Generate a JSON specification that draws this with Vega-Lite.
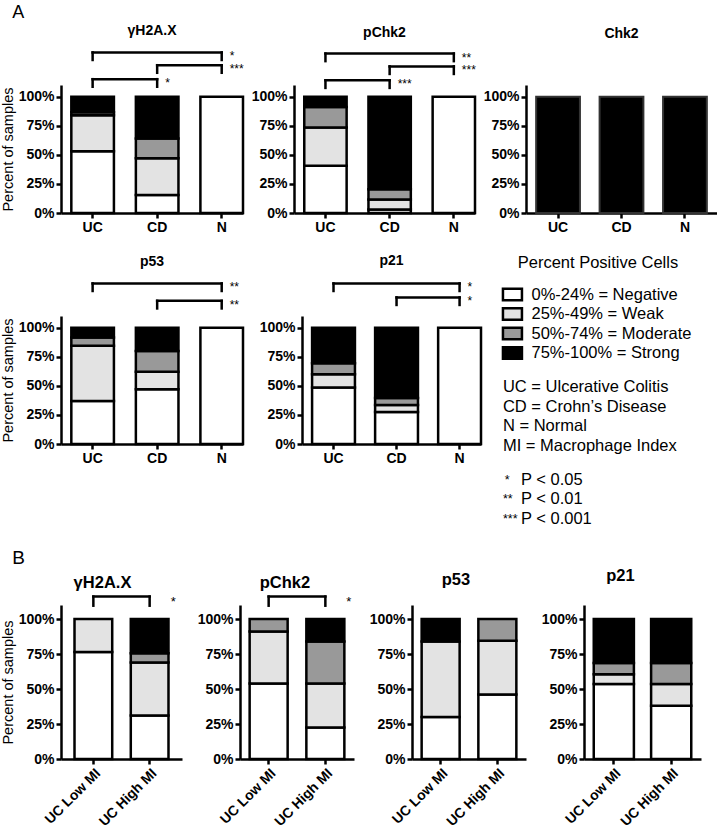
{
"$schema": "https://vega.github.io/schema/vega-lite/v6.json",
"background": "white",
"padding": {"left": 0, "top": 4, "right": 2, "bottom": 2},
"spacing": 20,
"config": {
 "font": "Liberation Sans",
 "view": {"stroke": null},
 "axis": {"domainColor": "black", "domainWidth": 2.5, "tickColor": "black", "tickWidth": 2.5, "tickSize": 5, "labelFont": "Liberation Sans", "labelFontSize": 14, "labelFontWeight": "bold", "labelColor": "black", "labelPadding": 2, "grid": false, "titleFont": "Liberation Sans", "titleFontSize": 14.5, "titleFontWeight": "normal", "titleColor": "black", "titlePadding": 3},
 "title": {"font": "Liberation Sans", "fontWeight": "bold", "color": "black", "fontSize": 14},
 "text": {"font": "Liberation Sans", "color": "black"}
},
"datasets": {
 "bars": [
  {"p":"A γH2A.X","g":"UC","l":"Negative","r":1,"v":53},
  {"p":"A γH2A.X","g":"UC","l":"Weak","r":2,"v":31},
  {"p":"A γH2A.X","g":"UC","l":"Moderate","r":3,"v":2.5},
  {"p":"A γH2A.X","g":"UC","l":"Strong","r":4,"v":13.5},
  {"p":"A γH2A.X","g":"CD","l":"Negative","r":1,"v":15.5},
  {"p":"A γH2A.X","g":"CD","l":"Weak","r":2,"v":31.5},
  {"p":"A γH2A.X","g":"CD","l":"Moderate","r":3,"v":17},
  {"p":"A γH2A.X","g":"CD","l":"Strong","r":4,"v":36},
  {"p":"A γH2A.X","g":"N","l":"Negative","r":1,"v":100},
  {"p":"A pChk2","g":"UC","l":"Negative","r":1,"v":40.5},
  {"p":"A pChk2","g":"UC","l":"Weak","r":2,"v":33},
  {"p":"A pChk2","g":"UC","l":"Moderate","r":3,"v":17.5},
  {"p":"A pChk2","g":"UC","l":"Strong","r":4,"v":9},
  {"p":"A pChk2","g":"CD","l":"Negative","r":1,"v":3},
  {"p":"A pChk2","g":"CD","l":"Weak","r":2,"v":8.5},
  {"p":"A pChk2","g":"CD","l":"Moderate","r":3,"v":9},
  {"p":"A pChk2","g":"CD","l":"Strong","r":4,"v":79.5},
  {"p":"A pChk2","g":"N","l":"Negative","r":1,"v":100},
  {"p":"A Chk2","g":"UC","l":"Strong","r":4,"v":100},
  {"p":"A Chk2","g":"CD","l":"Strong","r":4,"v":100},
  {"p":"A Chk2","g":"N","l":"Strong","r":4,"v":100},
  {"p":"A p53","g":"UC","l":"Negative","r":1,"v":37},
  {"p":"A p53","g":"UC","l":"Weak","r":2,"v":47.5},
  {"p":"A p53","g":"UC","l":"Moderate","r":3,"v":7},
  {"p":"A p53","g":"UC","l":"Strong","r":4,"v":8.5},
  {"p":"A p53","g":"CD","l":"Negative","r":1,"v":47},
  {"p":"A p53","g":"CD","l":"Weak","r":2,"v":15},
  {"p":"A p53","g":"CD","l":"Moderate","r":3,"v":18},
  {"p":"A p53","g":"CD","l":"Strong","r":4,"v":20},
  {"p":"A p53","g":"N","l":"Negative","r":1,"v":100},
  {"p":"A p21","g":"UC","l":"Negative","r":1,"v":48.5},
  {"p":"A p21","g":"UC","l":"Weak","r":2,"v":11.5},
  {"p":"A p21","g":"UC","l":"Moderate","r":3,"v":9.5},
  {"p":"A p21","g":"UC","l":"Strong","r":4,"v":30.5},
  {"p":"A p21","g":"CD","l":"Negative","r":1,"v":27.5},
  {"p":"A p21","g":"CD","l":"Weak","r":2,"v":6},
  {"p":"A p21","g":"CD","l":"Moderate","r":3,"v":6},
  {"p":"A p21","g":"CD","l":"Strong","r":4,"v":60.5},
  {"p":"A p21","g":"N","l":"Negative","r":1,"v":100},
  {"p":"B γH2A.X","g":"UC Low MI","l":"Negative","r":1,"v":76.5},
  {"p":"B γH2A.X","g":"UC Low MI","l":"Weak","r":2,"v":23.5},
  {"p":"B γH2A.X","g":"UC High MI","l":"Negative","r":1,"v":31},
  {"p":"B γH2A.X","g":"UC High MI","l":"Weak","r":2,"v":38},
  {"p":"B γH2A.X","g":"UC High MI","l":"Moderate","r":3,"v":6.5},
  {"p":"B γH2A.X","g":"UC High MI","l":"Strong","r":4,"v":24.5},
  {"p":"B pChk2","g":"UC Low MI","l":"Negative","r":1,"v":54},
  {"p":"B pChk2","g":"UC Low MI","l":"Weak","r":2,"v":37},
  {"p":"B pChk2","g":"UC Low MI","l":"Moderate","r":3,"v":9},
  {"p":"B pChk2","g":"UC High MI","l":"Negative","r":1,"v":22.5},
  {"p":"B pChk2","g":"UC High MI","l":"Weak","r":2,"v":31.5},
  {"p":"B pChk2","g":"UC High MI","l":"Moderate","r":3,"v":30},
  {"p":"B pChk2","g":"UC High MI","l":"Strong","r":4,"v":16},
  {"p":"B p53","g":"UC Low MI","l":"Negative","r":1,"v":30},
  {"p":"B p53","g":"UC Low MI","l":"Weak","r":2,"v":54},
  {"p":"B p53","g":"UC Low MI","l":"Strong","r":4,"v":16},
  {"p":"B p53","g":"UC High MI","l":"Negative","r":1,"v":46},
  {"p":"B p53","g":"UC High MI","l":"Weak","r":2,"v":38.5},
  {"p":"B p53","g":"UC High MI","l":"Moderate","r":3,"v":15.5},
  {"p":"B p21","g":"UC Low MI","l":"Negative","r":1,"v":53.5},
  {"p":"B p21","g":"UC Low MI","l":"Weak","r":2,"v":7},
  {"p":"B p21","g":"UC Low MI","l":"Moderate","r":3,"v":8},
  {"p":"B p21","g":"UC Low MI","l":"Strong","r":4,"v":31.5},
  {"p":"B p21","g":"UC High MI","l":"Negative","r":1,"v":38},
  {"p":"B p21","g":"UC High MI","l":"Weak","r":2,"v":15.5},
  {"p":"B p21","g":"UC High MI","l":"Moderate","r":3,"v":15},
  {"p":"B p21","g":"UC High MI","l":"Strong","r":4,"v":31.5}
 ],
 "brackets": [
  {"p":"A γH2A.X","a":"UC","b":"N","h":138,"s":"*"},
  {"p":"A γH2A.X","a":"CD","b":"N","h":127,"s":"***"},
  {"p":"A γH2A.X","a":"UC","b":"CD","h":115,"s":"*"},
  {"p":"A pChk2","a":"UC","b":"N","h":137,"s":"**"},
  {"p":"A pChk2","a":"CD","b":"N","h":126,"s":"***"},
  {"p":"A pChk2","a":"UC","b":"CD","h":114,"s":"***"},
  {"p":"A p53","a":"UC","b":"N","h":138,"s":"**"},
  {"p":"A p53","a":"CD","b":"N","h":123,"s":"**"},
  {"p":"A p21","a":"UC","b":"N","h":138,"s":"*"},
  {"p":"A p21","a":"CD","b":"N","h":126,"s":"*"},
  {"p":"B γH2A.X","a":"UC Low MI","b":"UC High MI","h":116,"s":"*"},
  {"p":"B pChk2","a":"UC Low MI","b":"UC High MI","h":116,"s":"*"}
 ],
 "legend": [
  {"k":"title","i":0,"c":5,"t":"Percent Positive Cells"},
  {"k":"swatch","i":1.6,"c":0.5,"l":"Negative"},
  {"k":"swatch","i":2.6,"c":0.5,"l":"Weak"},
  {"k":"swatch","i":3.6,"c":0.5,"l":"Moderate"},
  {"k":"swatch","i":4.6,"c":0.5,"l":"Strong"},
  {"k":"text","i":1.6,"c":1.5,"t":"0%-24% = Negative"},
  {"k":"text","i":2.6,"c":1.5,"t":"25%-49% = Weak"},
  {"k":"text","i":3.6,"c":1.5,"t":"50%-74% = Moderate"},
  {"k":"text","i":4.6,"c":1.5,"t":"75%-100% = Strong"},
  {"k":"text","i":6.35,"c":0,"t":"UC = Ulcerative Colitis"},
  {"k":"text","i":7.35,"c":0,"t":"CD = Crohn’s Disease"},
  {"k":"text","i":8.35,"c":0,"t":"N = Normal"},
  {"k":"text","i":9.35,"c":0,"t":"MI = Macrophage Index"},
  {"k":"star","i":11.1,"c":0.1,"t":"*"},
  {"k":"text","i":11.1,"c":0.95,"t":"P < 0.05"},
  {"k":"star","i":12.1,"c":0,"t":"**"},
  {"k":"text","i":12.1,"c":0.95,"t":"P < 0.01"},
  {"k":"star","i":13.1,"c":0,"t":"***"},
  {"k":"text","i":13.1,"c":0.95,"t":"P < 0.001"}
 ]
},
"vconcat": [
 {
  "title": {"text": "A", "anchor": "start", "fontSize": 18, "fontWeight": "normal", "offset": 2, "dx": 12},
  "bounds": "flush",
  "spacing": 51,
  "hconcat": [
   {
    "width": 182, "height": 128,
    "title": {"text": "γH2A.X", "frame": "group", "offset": 12},
    "layer": [
     {"data": {"name": "bars"}, "transform": [{"filter": "datum.p === 'A γH2A.X'"}],
      "mark": {"type": "bar", "stroke": "black", "strokeWidth": 2.5},
      "encoding": {
       "x": {"field": "g", "type": "nominal", "scale": {"domain": ["UC","CD","N"], "paddingInner": 0.34, "paddingOuter": 0.08, "align": 1}, "axis": {"title": null, "labelAngle": 0}},
       "y": {"field": "v", "type": "quantitative", "stack": "zero", "scale": {"domain": [0,110], "nice": false}, "axis": {"title": "Percent of samples", "values": [0,25,50,75,100], "labelExpr": "datum.value + '%'"}},
       "color": {"field": "l", "type": "nominal", "scale": {"domain": ["Negative","Weak","Moderate","Strong"], "range": ["#ffffff","#e3e3e3","#999999","#000000"]}, "legend": null},
       "order": {"field": "r", "type": "quantitative"}}},
     {"data": {"name": "brackets"}, "transform": [{"filter": "datum.p === 'A γH2A.X'"}],
      "mark": {"type": "rule", "strokeWidth": 2.5, "strokeCap": "square", "color": "black"},
      "encoding": {
       "x": {"field": "a", "type": "nominal", "scale": {"domain": ["UC","CD","N"]}, "axis": {"title": null, "labelAngle": 0}},
       "x2": {"field": "b"},
       "y": {"field": "h", "type": "quantitative", "scale": {"domain": [0,110], "nice": false}, "axis": {"title": "Percent of samples", "values": [0,25,50,75,100], "labelExpr": "datum.value + '%'"}}}},
     {"data": {"name": "brackets"}, "transform": [{"filter": "datum.p === 'A γH2A.X'"}, {"fold": ["a","b"], "as": ["end","g"]}, {"calculate": "datum.h - 6.5", "as": "lo"}],
      "mark": {"type": "rule", "strokeWidth": 2.5, "strokeCap": "square", "color": "black"},
      "encoding": {
       "x": {"field": "g", "type": "nominal", "scale": {"domain": ["UC","CD","N"]}, "axis": {"title": null, "labelAngle": 0}},
       "y": {"field": "h", "type": "quantitative", "scale": {"domain": [0,110], "nice": false}, "axis": {"title": "Percent of samples", "values": [0,25,50,75,100], "labelExpr": "datum.value + '%'"}},
       "y2": {"field": "lo"}}},
     {"data": {"name": "brackets"}, "transform": [{"filter": "datum.p === 'A γH2A.X'"}],
      "mark": {"type": "text", "align": "left", "baseline": "top", "dx": 8, "dy": -1, "fontSize": 12},
      "encoding": {
       "x": {"field": "b", "type": "nominal", "scale": {"domain": ["UC","CD","N"]}, "axis": {"title": null, "labelAngle": 0}},
       "y": {"field": "h", "type": "quantitative", "scale": {"domain": [0,110], "nice": false}, "axis": {"title": "Percent of samples", "values": [0,25,50,75,100], "labelExpr": "datum.value + '%'"}},
       "text": {"field": "s"}}}
    ]
   },
   {
    "width": 181, "height": 128,
    "title": {"text": "pChk2", "frame": "group", "offset": 12},
    "layer": [
     {"data": {"name": "bars"}, "transform": [{"filter": "datum.p === 'A pChk2'"}],
      "mark": {"type": "bar", "stroke": "black", "strokeWidth": 2.5},
      "encoding": {
       "x": {"field": "g", "type": "nominal", "scale": {"domain": ["UC","CD","N"], "paddingInner": 0.34, "paddingOuter": 0.08, "align": 1}, "axis": {"title": null, "labelAngle": 0}},
       "y": {"field": "v", "type": "quantitative", "stack": "zero", "scale": {"domain": [0,110], "nice": false}, "axis": {"title": null, "values": [0,25,50,75,100], "labelExpr": "datum.value + '%'"}},
       "color": {"field": "l", "type": "nominal", "scale": {"domain": ["Negative","Weak","Moderate","Strong"], "range": ["#ffffff","#e3e3e3","#999999","#000000"]}, "legend": null},
       "order": {"field": "r", "type": "quantitative"}}},
     {"data": {"name": "brackets"}, "transform": [{"filter": "datum.p === 'A pChk2'"}],
      "mark": {"type": "rule", "strokeWidth": 2.5, "strokeCap": "square", "color": "black"},
      "encoding": {
       "x": {"field": "a", "type": "nominal", "scale": {"domain": ["UC","CD","N"]}, "axis": {"title": null, "labelAngle": 0}},
       "x2": {"field": "b"},
       "y": {"field": "h", "type": "quantitative", "scale": {"domain": [0,110], "nice": false}, "axis": {"title": null, "values": [0,25,50,75,100], "labelExpr": "datum.value + '%'"}}}},
     {"data": {"name": "brackets"}, "transform": [{"filter": "datum.p === 'A pChk2'"}, {"fold": ["a","b"], "as": ["end","g"]}, {"calculate": "datum.h - 6.5", "as": "lo"}],
      "mark": {"type": "rule", "strokeWidth": 2.5, "strokeCap": "square", "color": "black"},
      "encoding": {
       "x": {"field": "g", "type": "nominal", "scale": {"domain": ["UC","CD","N"]}, "axis": {"title": null, "labelAngle": 0}},
       "y": {"field": "h", "type": "quantitative", "scale": {"domain": [0,110], "nice": false}, "axis": {"title": null, "values": [0,25,50,75,100], "labelExpr": "datum.value + '%'"}},
       "y2": {"field": "lo"}}},
     {"data": {"name": "brackets"}, "transform": [{"filter": "datum.p === 'A pChk2'"}],
      "mark": {"type": "text", "align": "left", "baseline": "top", "dx": 8, "dy": -1, "fontSize": 12},
      "encoding": {
       "x": {"field": "b", "type": "nominal", "scale": {"domain": ["UC","CD","N"]}, "axis": {"title": null, "labelAngle": 0}},
       "y": {"field": "h", "type": "quantitative", "scale": {"domain": [0,110], "nice": false}, "axis": {"title": null, "values": [0,25,50,75,100], "labelExpr": "datum.value + '%'"}},
       "text": {"field": "s"}}}
    ]
   },
   {
    "width": 191, "height": 128,
    "title": {"text": "Chk2", "frame": "group", "offset": 44},
    "data": {"name": "bars"}, "transform": [{"filter": "datum.p === 'A Chk2'"}],
    "mark": {"type": "bar", "stroke": "#333333", "strokeWidth": 2},
    "encoding": {
     "x": {"field": "g", "type": "nominal", "scale": {"domain": ["UC","CD","N"], "paddingInner": 0.31, "paddingOuter": 0.16}, "axis": {"title": null, "labelAngle": 0}},
     "y": {"field": "v", "type": "quantitative", "stack": "zero", "scale": {"domain": [0,110], "nice": false}, "axis": {"title": null, "values": [0,25,50,75,100], "labelExpr": "datum.value + '%'"}},
     "color": {"field": "l", "type": "nominal", "scale": {"domain": ["Negative","Weak","Moderate","Strong"], "range": ["#ffffff","#e3e3e3","#999999","#000000"]}, "legend": null},
     "order": {"field": "r", "type": "quantitative"}}
   }
  ]
 },
 {
  "bounds": "flush",
  "spacing": 59,
  "hconcat": [
   {
    "width": 182, "height": 128,
    "title": {"text": "p53", "frame": "group", "offset": 12},
    "layer": [
     {"data": {"name": "bars"}, "transform": [{"filter": "datum.p === 'A p53'"}],
      "mark": {"type": "bar", "stroke": "black", "strokeWidth": 2.5},
      "encoding": {
       "x": {"field": "g", "type": "nominal", "scale": {"domain": ["UC","CD","N"], "paddingInner": 0.34, "paddingOuter": 0.08, "align": 1}, "axis": {"title": null, "labelAngle": 0}},
       "y": {"field": "v", "type": "quantitative", "stack": "zero", "scale": {"domain": [0,110], "nice": false}, "axis": {"title": "Percent of samples", "values": [0,25,50,75,100], "labelExpr": "datum.value + '%'"}},
       "color": {"field": "l", "type": "nominal", "scale": {"domain": ["Negative","Weak","Moderate","Strong"], "range": ["#ffffff","#e3e3e3","#999999","#000000"]}, "legend": null},
       "order": {"field": "r", "type": "quantitative"}}},
     {"data": {"name": "brackets"}, "transform": [{"filter": "datum.p === 'A p53'"}],
      "mark": {"type": "rule", "strokeWidth": 2.5, "strokeCap": "square", "color": "black"},
      "encoding": {
       "x": {"field": "a", "type": "nominal", "scale": {"domain": ["UC","CD","N"]}, "axis": {"title": null, "labelAngle": 0}},
       "x2": {"field": "b"},
       "y": {"field": "h", "type": "quantitative", "scale": {"domain": [0,110], "nice": false}, "axis": {"title": "Percent of samples", "values": [0,25,50,75,100], "labelExpr": "datum.value + '%'"}}}},
     {"data": {"name": "brackets"}, "transform": [{"filter": "datum.p === 'A p53'"}, {"fold": ["a","b"], "as": ["end","g"]}, {"calculate": "datum.h - 6.5", "as": "lo"}],
      "mark": {"type": "rule", "strokeWidth": 2.5, "strokeCap": "square", "color": "black"},
      "encoding": {
       "x": {"field": "g", "type": "nominal", "scale": {"domain": ["UC","CD","N"]}, "axis": {"title": null, "labelAngle": 0}},
       "y": {"field": "h", "type": "quantitative", "scale": {"domain": [0,110], "nice": false}, "axis": {"title": "Percent of samples", "values": [0,25,50,75,100], "labelExpr": "datum.value + '%'"}},
       "y2": {"field": "lo"}}},
     {"data": {"name": "brackets"}, "transform": [{"filter": "datum.p === 'A p53'"}],
      "mark": {"type": "text", "align": "left", "baseline": "top", "dx": 8, "dy": -1, "fontSize": 12},
      "encoding": {
       "x": {"field": "b", "type": "nominal", "scale": {"domain": ["UC","CD","N"]}, "axis": {"title": null, "labelAngle": 0}},
       "y": {"field": "h", "type": "quantitative", "scale": {"domain": [0,110], "nice": false}, "axis": {"title": "Percent of samples", "values": [0,25,50,75,100], "labelExpr": "datum.value + '%'"}},
       "text": {"field": "s"}}}
    ]
   },
   {
    "width": 179, "height": 128,
    "title": {"text": "p21", "frame": "group", "offset": 13},
    "layer": [
     {"data": {"name": "bars"}, "transform": [{"filter": "datum.p === 'A p21'"}],
      "mark": {"type": "bar", "stroke": "black", "strokeWidth": 2.5},
      "encoding": {
       "x": {"field": "g", "type": "nominal", "scale": {"domain": ["UC","CD","N"], "paddingInner": 0.32, "paddingOuter": 0.08, "align": 1}, "axis": {"title": null, "labelAngle": 0}},
       "y": {"field": "v", "type": "quantitative", "stack": "zero", "scale": {"domain": [0,110], "nice": false}, "axis": {"title": null, "values": [0,25,50,75,100], "labelExpr": "datum.value + '%'"}},
       "color": {"field": "l", "type": "nominal", "scale": {"domain": ["Negative","Weak","Moderate","Strong"], "range": ["#ffffff","#e3e3e3","#999999","#000000"]}, "legend": null},
       "order": {"field": "r", "type": "quantitative"}}},
     {"data": {"name": "brackets"}, "transform": [{"filter": "datum.p === 'A p21'"}],
      "mark": {"type": "rule", "strokeWidth": 2.5, "strokeCap": "square", "color": "black"},
      "encoding": {
       "x": {"field": "a", "type": "nominal", "scale": {"domain": ["UC","CD","N"]}, "axis": {"title": null, "labelAngle": 0}},
       "x2": {"field": "b"},
       "y": {"field": "h", "type": "quantitative", "scale": {"domain": [0,110], "nice": false}, "axis": {"title": null, "values": [0,25,50,75,100], "labelExpr": "datum.value + '%'"}}}},
     {"data": {"name": "brackets"}, "transform": [{"filter": "datum.p === 'A p21'"}, {"fold": ["a","b"], "as": ["end","g"]}, {"calculate": "datum.h - 6.5", "as": "lo"}],
      "mark": {"type": "rule", "strokeWidth": 2.5, "strokeCap": "square", "color": "black"},
      "encoding": {
       "x": {"field": "g", "type": "nominal", "scale": {"domain": ["UC","CD","N"]}, "axis": {"title": null, "labelAngle": 0}},
       "y": {"field": "h", "type": "quantitative", "scale": {"domain": [0,110], "nice": false}, "axis": {"title": null, "values": [0,25,50,75,100], "labelExpr": "datum.value + '%'"}},
       "y2": {"field": "lo"}}},
     {"data": {"name": "brackets"}, "transform": [{"filter": "datum.p === 'A p21'"}],
      "mark": {"type": "text", "align": "left", "baseline": "top", "dx": 8, "dy": -1, "fontSize": 12},
      "encoding": {
       "x": {"field": "b", "type": "nominal", "scale": {"domain": ["UC","CD","N"]}, "axis": {"title": null, "labelAngle": 0}},
       "y": {"field": "h", "type": "quantitative", "scale": {"domain": [0,110], "nice": false}, "axis": {"title": null, "values": [0,25,50,75,100], "labelExpr": "datum.value + '%'"}},
       "text": {"field": "s"}}}
    ]
   },
   {
    "width": 150, "height": 128,
    "data": {"name": "legend"},
    "layer": [
     {"transform": [{"filter": "datum.k === 'title'"}],
      "mark": {"type": "text", "align": "center", "baseline": "middle", "fontSize": 16.5},
      "encoding": {
       "x": {"field": "c", "type": "quantitative", "scale": {"domain": [1.95, 9.844], "nice": false, "zero": false}, "axis": null},
       "y": {"field": "i", "type": "quantitative", "scale": {"domain": [2.7, 9.264], "nice": false, "zero": false, "reverse": true}, "axis": null},
       "text": {"field": "t"}}},
     {"transform": [{"filter": "datum.k === 'text'"}],
      "mark": {"type": "text", "align": "left", "baseline": "middle", "fontSize": 16.5},
      "encoding": {
       "x": {"field": "c", "type": "quantitative", "scale": {"domain": [1.95, 9.844], "nice": false, "zero": false}, "axis": null},
       "y": {"field": "i", "type": "quantitative", "scale": {"domain": [2.7, 9.264], "nice": false, "zero": false, "reverse": true}, "axis": null},
       "text": {"field": "t"}}},
     {"transform": [{"filter": "datum.k === 'star'"}],
      "mark": {"type": "text", "align": "left", "baseline": "middle", "fontSize": 12.5},
      "encoding": {
       "x": {"field": "c", "type": "quantitative", "scale": {"domain": [1.95, 9.844], "nice": false, "zero": false}, "axis": null},
       "y": {"field": "i", "type": "quantitative", "scale": {"domain": [2.7, 9.264], "nice": false, "zero": false, "reverse": true}, "axis": null},
       "text": {"field": "t"}}},
     {"transform": [{"filter": "datum.k === 'swatch'"}],
      "mark": {"type": "point", "shape": "M-1,-0.6L1,-0.6L1,0.6L-1,0.6Z", "size": 361, "filled": true, "opacity": 1, "stroke": "black", "strokeWidth": 2.5},
      "encoding": {
       "x": {"field": "c", "type": "quantitative", "scale": {"domain": [1.95, 9.844], "nice": false, "zero": false}, "axis": null},
       "y": {"field": "i", "type": "quantitative", "scale": {"domain": [2.7, 9.264], "nice": false, "zero": false, "reverse": true}, "axis": null},
       "color": {"field": "l", "type": "nominal", "scale": {"domain": ["Negative","Weak","Moderate","Strong"], "range": ["#ffffff","#e3e3e3","#999999","#000000"]}, "legend": null}}}
    ]
   }
  ]
 },
 {
  "title": {"text": "B", "anchor": "start", "fontSize": 19, "fontWeight": "normal", "offset": 0, "dx": 12},
  "bounds": "flush",
  "spacing": 58,
  "hconcat": [
   {
    "width": 121, "height": 154,
    "title": {"text": "γH2A.X", "frame": "group", "dx": -19, "offset": 3, "fontSize": 16.5},
    "layer": [
     {"data": {"name": "bars"}, "transform": [{"filter": "datum.p === 'B γH2A.X'"}],
      "mark": {"type": "bar", "stroke": "black", "strokeWidth": 2.5},
      "encoding": {
       "x": {"field": "g", "type": "nominal", "scale": {"domain": ["UC Low MI","UC High MI"], "paddingInner": 0.33, "paddingOuter": 0.24}, "axis": {"title": null, "labelAngle": -45}},
       "y": {"field": "v", "type": "quantitative", "stack": "zero", "scale": {"domain": [0,110], "nice": false}, "axis": {"title": "Percent of samples", "values": [0,25,50,75,100], "labelExpr": "datum.value + '%'"}},
       "color": {"field": "l", "type": "nominal", "scale": {"domain": ["Negative","Weak","Moderate","Strong"], "range": ["#ffffff","#e3e3e3","#999999","#000000"]}, "legend": null},
       "order": {"field": "r", "type": "quantitative"}}},
     {"data": {"name": "brackets"}, "transform": [{"filter": "datum.p === 'B γH2A.X'"}],
      "mark": {"type": "rule", "strokeWidth": 2.5, "strokeCap": "square", "color": "black"},
      "encoding": {
       "x": {"field": "a", "type": "nominal", "scale": {"domain": ["UC Low MI","UC High MI"]}, "axis": {"title": null, "labelAngle": -45}},
       "x2": {"field": "b"},
       "y": {"field": "h", "type": "quantitative", "scale": {"domain": [0,110], "nice": false}, "axis": {"title": "Percent of samples", "values": [0,25,50,75,100], "labelExpr": "datum.value + '%'"}}}},
     {"data": {"name": "brackets"}, "transform": [{"filter": "datum.p === 'B γH2A.X'"}, {"fold": ["a","b"], "as": ["end","g"]}, {"calculate": "datum.h - 6.5", "as": "lo"}],
      "mark": {"type": "rule", "strokeWidth": 2.5, "strokeCap": "square", "color": "black"},
      "encoding": {
       "x": {"field": "g", "type": "nominal", "scale": {"domain": ["UC Low MI","UC High MI"]}, "axis": {"title": null, "labelAngle": -45}},
       "y": {"field": "h", "type": "quantitative", "scale": {"domain": [0,110], "nice": false}, "axis": {"title": "Percent of samples", "values": [0,25,50,75,100], "labelExpr": "datum.value + '%'"}},
       "y2": {"field": "lo"}}},
     {"data": {"name": "brackets"}, "transform": [{"filter": "datum.p === 'B γH2A.X'"}],
      "mark": {"type": "text", "align": "left", "baseline": "top", "dx": 21, "dy": -1, "fontSize": 13},
      "encoding": {
       "x": {"field": "b", "type": "nominal", "scale": {"domain": ["UC Low MI","UC High MI"]}, "axis": {"title": null, "labelAngle": -45}},
       "y": {"field": "h", "type": "quantitative", "scale": {"domain": [0,110], "nice": false}, "axis": {"title": "Percent of samples", "values": [0,25,50,75,100], "labelExpr": "datum.value + '%'"}},
       "text": {"field": "s"}}}
    ]
   },
   {
    "width": 114, "height": 154,
    "title": {"text": "pChk2", "frame": "group", "dx": -12, "offset": 3, "fontSize": 16.5},
    "layer": [
     {"data": {"name": "bars"}, "transform": [{"filter": "datum.p === 'B pChk2'"}],
      "mark": {"type": "bar", "stroke": "black", "strokeWidth": 2.5},
      "encoding": {
       "x": {"field": "g", "type": "nominal", "scale": {"domain": ["UC Low MI","UC High MI"], "paddingInner": 0.33, "paddingOuter": 0.17}, "axis": {"title": null, "labelAngle": -45}},
       "y": {"field": "v", "type": "quantitative", "stack": "zero", "scale": {"domain": [0,110], "nice": false}, "axis": {"title": null, "values": [0,25,50,75,100], "labelExpr": "datum.value + '%'"}},
       "color": {"field": "l", "type": "nominal", "scale": {"domain": ["Negative","Weak","Moderate","Strong"], "range": ["#ffffff","#e3e3e3","#999999","#000000"]}, "legend": null},
       "order": {"field": "r", "type": "quantitative"}}},
     {"data": {"name": "brackets"}, "transform": [{"filter": "datum.p === 'B pChk2'"}],
      "mark": {"type": "rule", "strokeWidth": 2.5, "strokeCap": "square", "color": "black"},
      "encoding": {
       "x": {"field": "a", "type": "nominal", "scale": {"domain": ["UC Low MI","UC High MI"]}, "axis": {"title": null, "labelAngle": -45}},
       "x2": {"field": "b"},
       "y": {"field": "h", "type": "quantitative", "scale": {"domain": [0,110], "nice": false}, "axis": {"title": null, "values": [0,25,50,75,100], "labelExpr": "datum.value + '%'"}}}},
     {"data": {"name": "brackets"}, "transform": [{"filter": "datum.p === 'B pChk2'"}, {"fold": ["a","b"], "as": ["end","g"]}, {"calculate": "datum.h - 6.5", "as": "lo"}],
      "mark": {"type": "rule", "strokeWidth": 2.5, "strokeCap": "square", "color": "black"},
      "encoding": {
       "x": {"field": "g", "type": "nominal", "scale": {"domain": ["UC Low MI","UC High MI"]}, "axis": {"title": null, "labelAngle": -45}},
       "y": {"field": "h", "type": "quantitative", "scale": {"domain": [0,110], "nice": false}, "axis": {"title": null, "values": [0,25,50,75,100], "labelExpr": "datum.value + '%'"}},
       "y2": {"field": "lo"}}},
     {"data": {"name": "brackets"}, "transform": [{"filter": "datum.p === 'B pChk2'"}],
      "mark": {"type": "text", "align": "left", "baseline": "top", "dx": 21, "dy": -1, "fontSize": 13},
      "encoding": {
       "x": {"field": "b", "type": "nominal", "scale": {"domain": ["UC Low MI","UC High MI"]}, "axis": {"title": null, "labelAngle": -45}},
       "y": {"field": "h", "type": "quantitative", "scale": {"domain": [0,110], "nice": false}, "axis": {"title": null, "values": [0,25,50,75,100], "labelExpr": "datum.value + '%'"}},
       "text": {"field": "s"}}}
    ]
   },
   {
    "width": 114, "height": 154,
    "title": {"text": "p53", "frame": "group", "dx": -13, "offset": 17, "fontSize": 16.5},
    "data": {"name": "bars"}, "transform": [{"filter": "datum.p === 'B p53'"}],
    "mark": {"type": "bar", "stroke": "black", "strokeWidth": 2.5},
    "encoding": {
     "x": {"field": "g", "type": "nominal", "scale": {"domain": ["UC Low MI","UC High MI"], "paddingInner": 0.33, "paddingOuter": 0.17}, "axis": {"title": null, "labelAngle": -45}},
     "y": {"field": "v", "type": "quantitative", "stack": "zero", "scale": {"domain": [0,110], "nice": false}, "axis": {"title": null, "values": [0,25,50,75,100], "labelExpr": "datum.value + '%'"}},
     "color": {"field": "l", "type": "nominal", "scale": {"domain": ["Negative","Weak","Moderate","Strong"], "range": ["#ffffff","#e3e3e3","#999999","#000000"]}, "legend": null},
     "order": {"field": "r", "type": "quantitative"}}
   },
   {
    "width": 117, "height": 154,
    "title": {"text": "p21", "frame": "group", "dx": -22, "offset": 21, "fontSize": 16.5},
    "data": {"name": "bars"}, "transform": [{"filter": "datum.p === 'B p21'"}],
    "mark": {"type": "bar", "stroke": "black", "strokeWidth": 2.5},
    "encoding": {
     "x": {"field": "g", "type": "nominal", "scale": {"domain": ["UC Low MI","UC High MI"], "paddingInner": 0.3, "paddingOuter": 0.17}, "axis": {"title": null, "labelAngle": -45}},
     "y": {"field": "v", "type": "quantitative", "stack": "zero", "scale": {"domain": [0,110], "nice": false}, "axis": {"title": null, "values": [0,25,50,75,100], "labelExpr": "datum.value + '%'"}},
     "color": {"field": "l", "type": "nominal", "scale": {"domain": ["Negative","Weak","Moderate","Strong"], "range": ["#ffffff","#e3e3e3","#999999","#000000"]}, "legend": null},
     "order": {"field": "r", "type": "quantitative"}}
   }
  ]
 }
]
}
